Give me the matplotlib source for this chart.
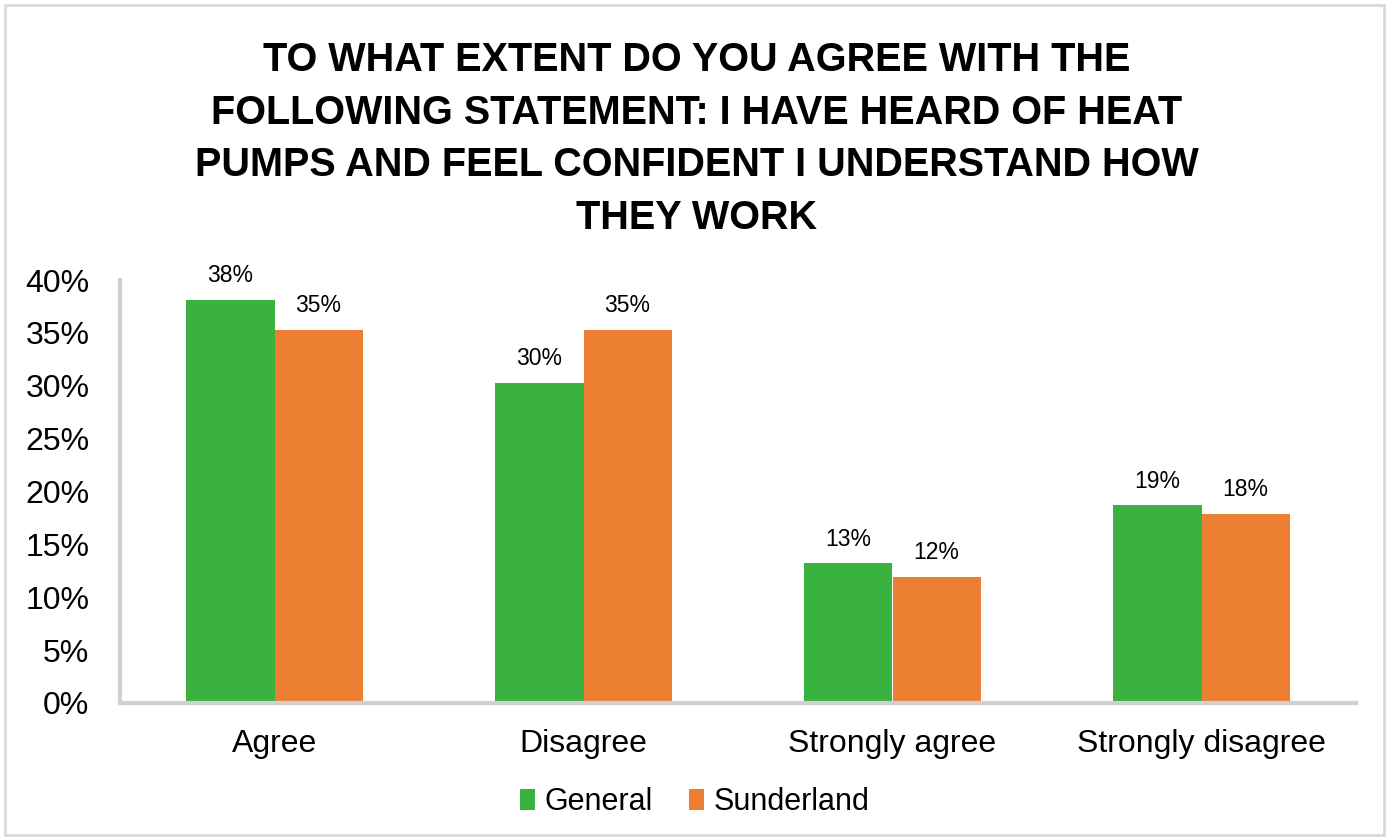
import matplotlib.pyplot as plt
from matplotlib.patches import Rectangle
import numpy as np

categories = ['Agree', 'Disagree', 'Strongly agree', 'Strongly disagree']
general = [38.1, 30.3, 13.2, 18.7]
sunderland = [35.3, 35.3, 11.9, 17.9]
yticks = [0, 5, 10, 15, 20, 25, 30, 35, 40]
title = ('TO WHAT EXTENT DO YOU AGREE WITH THE\n'
         'FOLLOWING STATEMENT: I HAVE HEARD OF HEAT\n'
         'PUMPS AND FEEL CONFIDENT I UNDERSTAND HOW\n'
         'THEY WORK')

green = '#3AB23F'
orange = '#ED7F33'
grey = '#D0D0D0'

plt.rcParams['font.family'] = ['Liberation Sans', 'DejaVu Sans']

fig = plt.figure(figsize=(13.89, 8.4), dpi=100)
# outer chart border
fig.patches.append(Rectangle((5 / 1389, 5 / 840), 1379 / 1389, 830 / 840,
                             transform=fig.transFigure, fill=False,
                             edgecolor='#D9D9D9', linewidth=2))

ax = fig.add_axes([120 / 1389, 1 - 703 / 840, 1236 / 1389, 423 / 840])
x = np.arange(len(categories))
w = 0.285
b1 = ax.bar(x - w / 2, general, w, color=green, label='General')
b2 = ax.bar(x + w / 2, sunderland, w, color=orange, label='Sunderland')
for bars in (b1, b2):
    for r in bars:
        ax.text(r.get_x() + r.get_width() / 2, r.get_height() + 1.2,
                '%.0f%%' % r.get_height(), ha='center', va='bottom', fontsize=16.5)

ax.set_xlim(-0.5, 3.5)
ax.set_ylim(0, 40)
ax.set_yticks(yticks)
ax.set_yticklabels(['%d%%' % t for t in yticks], fontsize=23)
ax.set_xticks(x)
ax.set_xticklabels(categories, fontsize=23)
ax.tick_params(length=0)
ax.tick_params(axis='y', pad=22)
ax.tick_params(axis='x', pad=19)
for s in ('top', 'right'):
    ax.spines[s].set_visible(False)
for s in ('left', 'bottom'):
    ax.spines[s].set_color(grey)
    ax.spines[s].set_linewidth(3)

fig.text(697 / 1389, 1 - 139 / 840, title, ha='center', va='center',
         fontsize=28.5, fontweight='bold', linespacing=1.48)

fig.legend(handles=[b1, b2], loc='center', ncol=2,
           bbox_to_anchor=(0.5, 1 - 802 / 840), frameon=False, fontsize=22,
           handlelength=0.5, handleheight=0.7, handletextpad=0.3, columnspacing=1.2)

fig.savefig('out.png', dpi=100)
